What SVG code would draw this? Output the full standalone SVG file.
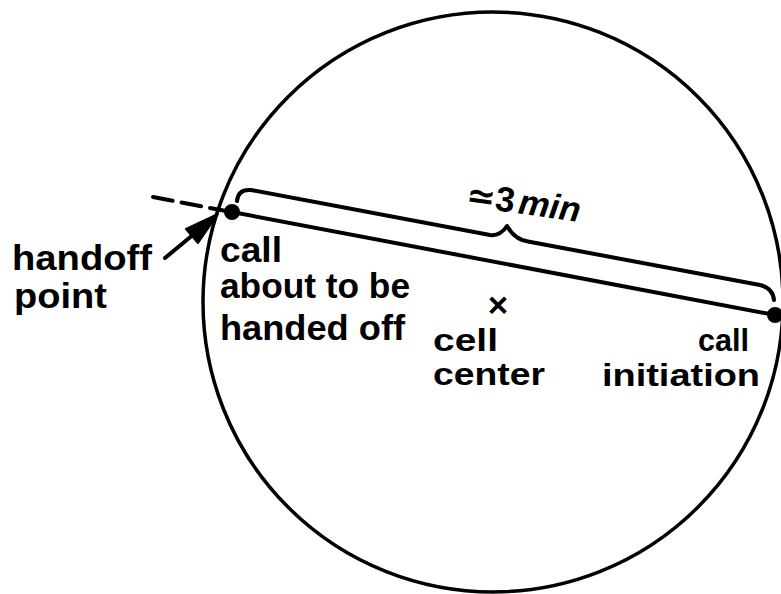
<svg xmlns="http://www.w3.org/2000/svg" width="781" height="594" viewBox="0 0 781 594">
<style>
.t{font-family:"Liberation Sans","DejaVu Sans",Arial,sans-serif;font-weight:bold;font-size:35px;fill:#000}
.s{font-size:32px}
.ln{fill:none;stroke:#000;stroke-width:4;stroke-linecap:round;stroke-linejoin:round}
</style>
<rect width="781" height="594" fill="#fff"/>
<g id="cell">
<circle cx="493" cy="302" r="290" fill="none" stroke="#000" stroke-width="3.5"/>
</g>
<g id="connectors">
<path class="ln" d="M232,212 L775,315"/>
<path class="ln" d="M237,201 Q238,189 251,190 L490,235 C498,236 503,232 507,226 C511,233 517,240 528,241.5 L760,285 Q773,288 774,300"/>
<path class="ln" d="M153,197 L226,211" stroke-dasharray="20 9" stroke-linecap="butt"/>
<path class="ln" d="M165,258 L194,234"/>
<polygon points="218,214 186,229 198,243" fill="#000" stroke="#000" stroke-width="2" stroke-linejoin="round"/>
</g>
<g id="handoff-point">
<circle cx="232" cy="212" r="8" fill="#000"/>
<text class="t" x="12" y="270" textLength="140" lengthAdjust="spacingAndGlyphs">handoff</text>
<text class="t" x="14" y="308" textLength="93" lengthAdjust="spacingAndGlyphs">point</text>
</g>
<g id="call-handoff">
<text class="t" x="220" y="262" textLength="62" lengthAdjust="spacingAndGlyphs">call</text>
<text class="t" x="220" y="298" textLength="190" lengthAdjust="spacingAndGlyphs">about to be</text>
<text class="t" x="220" y="340" textLength="185" lengthAdjust="spacingAndGlyphs">handed off</text>
</g>
<g id="cell-center">
<text class="t" x="498" y="317" text-anchor="middle" font-size="32">×</text>
<text class="t s" x="433" y="351" textLength="65" lengthAdjust="spacingAndGlyphs">cell</text>
<text class="t s" x="433" y="385" textLength="112" lengthAdjust="spacingAndGlyphs">center</text>
</g>
<g id="call-initiation">
<circle cx="775" cy="315" r="8" fill="#000"/>
<text class="t s" x="698" y="351" textLength="51" lengthAdjust="spacingAndGlyphs">call</text>
<text class="t s" x="602" y="386" textLength="158" lengthAdjust="spacingAndGlyphs">initiation</text>
</g>
<g id="duration">
<text class="t" font-size="38" transform="rotate(8 465 206)" x="465" y="206">≃3<tspan dx="4" font-style="italic">min</tspan></text>
</g>
</svg>
